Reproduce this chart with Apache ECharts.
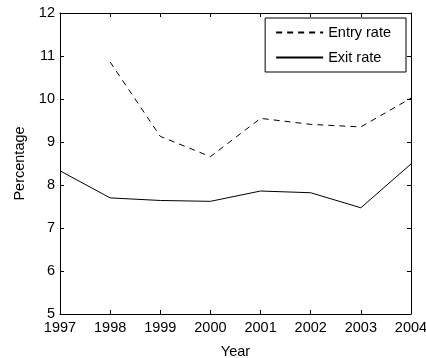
<!DOCTYPE html>
<html>
<head>
<meta charset="utf-8">
<script src="https://cdn.jsdelivr.net/npm/echarts@6/dist/echarts.min.js"></script>
<style>
html,body{margin:0;padding:0;background:#fff;}
#c{width:426px;height:358px;}
</style>
</head>
<body>
<div id="c"></div>
<script>
var years = ['1997','1998','1999','2000','2001','2002','2003','2004'];
var entryRate = [null, 10.86, 9.13, 8.66, 9.55, 9.41, 9.35, 10.02];
var exitRate = [8.33, 7.70, 7.64, 7.62, 7.86, 7.82, 7.47, 8.49];
var yTicks = {min: 5, max: 12, interval: 1};

var FONT = '"Liberation Sans", Arial, sans-serif';
var FS = 14.5;
var black = '#000';

var chart = echarts.init(document.getElementById('c'), null, {renderer: 'canvas'});
var axisLine = {show: true, lineStyle: {color: black, width: 1}};
var tick = {show: true, inside: true, length: 4, lineStyle: {color: black, width: 1}};

chart.setOption({
  backgroundColor: '#fff',
  animation: false,
  grid: {left: 60, right: 15, top: 13, bottom: 44, containLabel: false, outerBoundsMode: 'none'},
  legend: {
    orient: 'vertical',
    right: 20,
    top: 18,
    backgroundColor: '#fff',
    borderColor: black,
    borderWidth: 1,
    borderRadius: 0,
    padding: [7, 15, 7, 10],
    itemWidth: 47,
    itemHeight: 14,
    itemGap: 10,
    itemStyle: {opacity: 0},
    textStyle: {color: black, fontSize: FS, fontFamily: FONT},
    data: ['Entry rate', 'Exit rate']
  },
  xAxis: [
    {
      type: 'category', data: years, boundaryGap: false, position: 'bottom',
      axisLine: axisLine, axisTick: tick,
      axisLabel: {color: black, fontSize: FS, fontFamily: FONT, margin: 6},
      splitLine: {show: false},
      name: 'Year', nameLocation: 'middle', nameGap: 30,
      nameTextStyle: {color: black, fontSize: FS, fontFamily: FONT}
    },
    {
      type: 'category', data: years, boundaryGap: false, position: 'top',
      axisLine: axisLine, axisTick: tick, axisLabel: {show: false}, splitLine: {show: false}
    }
  ],
  yAxis: [
    {
      type: 'value', min: yTicks.min, max: yTicks.max, interval: yTicks.interval, position: 'left',
      axisLine: axisLine, axisTick: tick,
      axisLabel: {color: black, fontSize: FS, fontFamily: FONT, margin: 5},
      splitLine: {show: false},
      name: 'Percentage', nameLocation: 'middle', nameGap: 33, nameRotate: 90,
      nameTextStyle: {color: black, fontSize: FS, fontFamily: FONT}
    },
    {
      type: 'value', min: yTicks.min, max: yTicks.max, interval: yTicks.interval, position: 'right',
      axisLine: axisLine, axisTick: tick, axisLabel: {show: false}, splitLine: {show: false}
    }
  ],
  series: [
    {
      name: 'Entry rate', type: 'line', data: entryRate, xAxisIndex: 0, yAxisIndex: 0,
      symbol: 'none', connectNulls: false,
      lineStyle: {color: black, width: 1, type: [6, 5]},
      itemStyle: {color: black}
    },
    {
      name: 'Exit rate', type: 'line', data: exitRate, xAxisIndex: 0, yAxisIndex: 0,
      symbol: 'none',
      lineStyle: {color: black, width: 1, type: 'solid'},
      itemStyle: {color: black}
    }
  ]
});
</script>
</body>
</html>
